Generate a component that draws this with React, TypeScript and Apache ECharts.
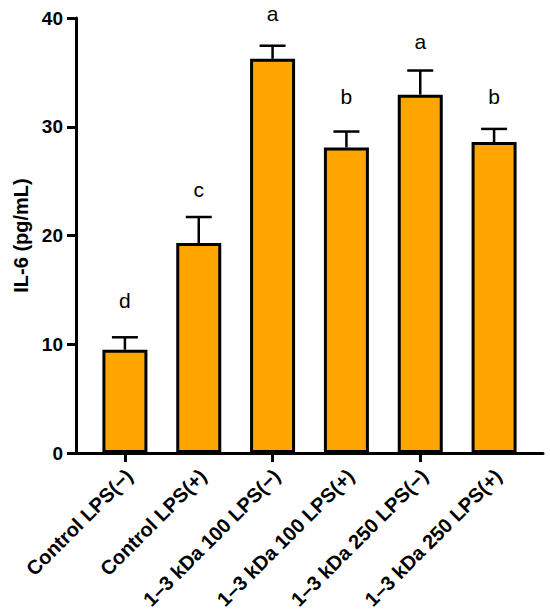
import React, { useEffect, useRef } from "react";
import * as echarts from "echarts";

const categories = [
  "Control LPS(−)",
  "Control LPS(+)",
  "1–3 kDa 100 LPS(−)",
  "1–3 kDa 100 LPS(+)",
  "1–3 kDa 250 LPS(−)",
  "1–3 kDa 250 LPS(+)",
];
const means = [9.5, 19.3, 36.25, 28.1, 32.95, 28.6];
const errors = [1.14, 2.4, 1.2, 1.46, 2.22, 1.2];
const letters = ["d", "c", "a", "b", "a", "b"];
const letterY = [14.0, 24.2, 40.4, 32.8, 37.8, 32.8];
const yTicks = { min: 0, max: 40, interval: 10 };

const FONT = "Liberation Sans, Arial, Helvetica, sans-serif";

export default function App() {
  const ref = useRef<HTMLDivElement>(null);
  useEffect(() => {
    if (!ref.current) return;
    const chart = echarts.init(ref.current, null, { renderer: "svg" });
    const errData = means.map((m, i) => [i, m, m + errors[i], letterY[i]]);
    chart.setOption({
      animation: false,
      backgroundColor: "#ffffff",
      grid: [
        { left: 76, right: 7, top: 18, bottom: 159 },
        { left: 88, right: 19, top: 18, bottom: 159 },
        { left: 92, right: 15, top: 18, bottom: 159 },
      ],
      xAxis: [
        {
          gridIndex: 0,
          type: "value",
          min: 0,
          max: 1,
          axisLine: { show: true, lineStyle: { color: "#000", width: 3 } },
          axisTick: { show: false },
          axisLabel: { show: false },
          splitLine: { show: false },
        },
        {
          gridIndex: 1,
          type: "category",
          data: categories,
          axisLine: { show: false },
          axisTick: {
            show: true,
            alignWithLabel: true,
            length: 9,
            lineStyle: { color: "#000", width: 3 },
          },
          axisLabel: { show: false },
        },
        {
          gridIndex: 2,
          type: "category",
          data: categories,
          axisLine: { show: false },
          axisTick: { show: false },
          axisLabel: {
            rotate: 45,
            interval: 0,
            margin: 22,
            color: "#000",
            fontSize: 20,
            fontWeight: "bold",
            fontFamily: FONT,
          },
        },
      ],
      yAxis: [
        {
          gridIndex: 0,
          type: "value",
          min: yTicks.min,
          max: yTicks.max,
          interval: yTicks.interval,
          name: "IL-6 (pg/mL)",
          nameLocation: "middle",
          nameGap: 43,
          nameTextStyle: {
            color: "#000",
            fontSize: 20,
            fontWeight: "bold",
            fontFamily: FONT,
          },
          axisLine: { show: true, lineStyle: { color: "#000", width: 3 } },
          axisTick: { show: true, length: 9, lineStyle: { color: "#000", width: 3 } },
          axisLabel: {
            margin: 13,
            color: "#000",
            fontSize: 19,
            fontWeight: "bold",
            fontFamily: FONT,
          },
          splitLine: { show: false },
        },
        {
          gridIndex: 1,
          type: "value",
          min: yTicks.min,
          max: yTicks.max,
          show: false,
          splitLine: { show: false },
        },
        {
          gridIndex: 2,
          type: "value",
          min: yTicks.min,
          max: yTicks.max,
          show: false,
          splitLine: { show: false },
        },
      ],
      series: [
        {
          type: "bar",
          xAxisIndex: 1,
          yAxisIndex: 1,
          data: means,
          barWidth: 45,
          itemStyle: { color: "#FFA500", borderColor: "#000", borderWidth: 3 },
          z: 2,
        },
        {
          type: "custom",
          xAxisIndex: 1,
          yAxisIndex: 1,
          clip: false,
          z: 3,
          data: errData,
          renderItem: (params: any, api: any) => {
            const i = api.value(0);
            const base = api.coord([i, api.value(1)]);
            const top = api.coord([i, api.value(2)]);
            const lt = api.coord([i, api.value(3)]);
            const half = 13;
            return {
              type: "group",
              children: [
                {
                  type: "line",
                  shape: { x1: base[0], y1: base[1], x2: top[0], y2: top[1] },
                  style: { stroke: "#000", lineWidth: 2.5 },
                },
                {
                  type: "line",
                  shape: { x1: top[0] - half, y1: top[1], x2: top[0] + half, y2: top[1] },
                  style: { stroke: "#000", lineWidth: 2.5 },
                },
                {
                  type: "text",
                  x: lt[0],
                  y: lt[1],
                  style: {
                    text: letters[params.dataIndex],
                    fill: "#000",
                    fontSize: 21,
                    fontFamily: FONT,
                    align: "center",
                    verticalAlign: "middle",
                  },
                },
              ],
            };
          },
        },
      ],
    });
    return () => chart.dispose();
  }, []);
  return (
    <div
      ref={ref}
      style={{ position: "fixed", left: 0, top: 0, width: 550, height: 612 }}
    />
  );
}
